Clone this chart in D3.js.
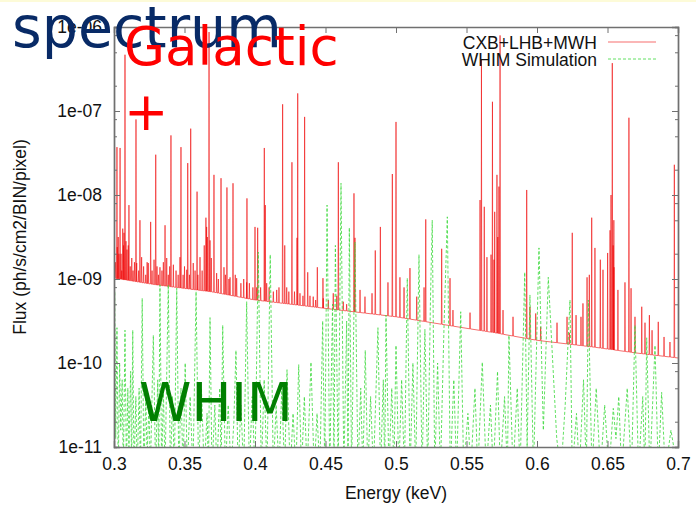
<!DOCTYPE html>
<html>
<head>
<meta charset="utf-8">
<script src="https://cdn.jsdelivr.net/npm/d3@7"></script>
<style>
  body { margin: 0; background: #fff; }
  text { font-family: "Liberation Sans", Arial, sans-serif; }
</style>
</head>
<body>
<div id="chart"></div>
<script>
// tick values
var xTicks = [0.3, 0.35, 0.4, 0.45, 0.5, 0.55, 0.6, 0.65, 0.7];
var yTicks = [1e-11, 1e-10, 1e-9, 1e-8, 1e-7, 1e-6];
var yMinorTicks = [2e-11, 5e-11, 8e-11, 2e-10, 5e-10, 8e-10, 2e-9, 5e-9, 8e-9,
                   2e-8, 5e-8, 8e-8, 2e-7, 5e-7, 8e-7];

var seriesNames = ["CXB+LHB+MWH", "WHIM Simulation"];

// continuum of the galactic model: energy (keV), log10 flux
var continuumE   = [0.300, 0.330, 0.370, 0.400, 0.430, 0.470, 0.500, 0.540, 0.570, 0.600, 0.640, 0.670, 0.700];
var continuumLog = [-8.99, -9.07, -9.155, -9.25, -9.31, -9.39, -9.45, -9.56, -9.64, -9.73, -9.81, -9.88, -9.94];

// emission lines of CXB+LHB+MWH: [energy, log10 peak flux]
var galacticLines = [
  [0.3021,-7.43],[0.3043,-7.44],[0.3078,-6.33],[0.3106,-8.12],[0.3156,-7.10],[0.3184,-8.30],
  [0.3260,-8.32],[0.3296,-7.52],[0.3362,-8.36],[0.3404,-7.29],[0.3475,-7.43],[0.3523,-7.62],
  [0.3544,-7.21],[0.3589,-7.96],[0.3652,-8.27],[0.3674,-6.06],[0.3709,-7.76],[0.3759,-7.80],
  [0.3801,-7.91],[0.3844,-7.86],[0.3943,-8.04],[0.4000,-8.38],[0.4019,-8.39],[0.4066,-7.44],
  [0.4073,-8.12],[0.4196,-6.92],[0.4211,-8.60],[0.4262,-7.61],[0.4298,-8.51],[0.4303,-6.79],
  [0.4352,-7.07],[0.4374,-8.92],[0.4442,-8.86],[0.4482,-8.99],[0.4591,-7.61],[0.4702,-7.98],
  [0.4709,-8.51],[0.4853,-8.66],[0.4889,-8.38],[0.4974,-7.75],[0.5000,-7.13],[0.5057,-9.10],
  [0.5099,-8.87],[0.5211,-8.29],[0.5324,-8.64],[0.5383,-8.99],[0.5596,-8.06],[0.5606,-6.39],
  [0.5626,-8.14],[0.5674,-8.71],[0.5684,-6.89],[0.5700,-8.20],[0.5716,-7.76],[0.5722,-8.50],
  [0.5730,-7.90],[0.5738,-6.10],[0.5927,-7.94],[0.5991,-9.41],[0.6229,-9.64],[0.6250,-8.45],
  [0.6277,-9.43],[0.6312,-9.45],[0.6371,-8.95],[0.6388,-8.27],[0.6411,-8.63],[0.6449,-8.77],
  [0.6501,-8.69],[0.6518,-8.42],[0.6525,-8.00],[0.6534,-6.43],[0.6540,-8.60],[0.6545,-8.30],
  [0.6624,-9.04],[0.6652,-7.08],[0.6667,-9.11],[0.6743,-9.33],[0.6797,-9.43],[0.6860,-9.51],
  [0.6974,-7.64]
];

// weak lines close to the continuum
var galacticWeak = [
  [0.3010,-8.80],[0.3023,-8.62],[0.3030,-8.50],[0.3035,-8.70],[0.3050,-8.70],[0.3055,-8.90],
  [0.3062,-8.40],[0.3068,-8.60],[0.3071,-8.45],[0.3085,-8.55],[0.3092,-8.65],[0.3101,-8.60],
  [0.3115,-8.85],[0.3126,-8.75],[0.3135,-8.90],[0.3145,-8.80],[0.3161,-8.81],[0.3175,-8.90],
  [0.3196,-8.74],[0.3210,-8.85],[0.3225,-8.95],[0.3235,-8.80],[0.3243,-8.81],[0.3270,-8.90],
  [0.3284,-8.77],[0.3305,-8.85],[0.3315,-8.95],[0.3326,-8.86],[0.3340,-8.90],[0.3350,-8.80],
  [0.3374,-8.75],[0.3385,-8.95],[0.3395,-8.85],[0.3421,-8.83],[0.3440,-8.90],[0.3455,-8.95],
  [0.3468,-8.74],[0.3490,-8.95],[0.3500,-8.85],[0.3516,-8.89],[0.3535,-8.95],[0.3562,-8.81],
  [0.3575,-8.90],[0.3595,-8.95],[0.3610,-8.74],[0.3625,-8.90],[0.3640,-8.60],[0.3657,-8.38],
  [0.3662,-8.50],[0.3681,-8.54],[0.3690,-8.75],[0.3728,-8.93],[0.3740,-9.00],[0.3780,-8.86],
  [0.3790,-8.95],[0.3815,-9.00],[0.3823,-8.98],[0.3860,-8.95],[0.3870,-8.99],[0.3900,-9.05],
  [0.3920,-9.00],[0.3941,-9.04],[0.3960,-9.05],[0.3985,-9.10],[0.4012,-9.10],[0.4040,-9.10],
  [0.4083,-9.05],[0.4100,-9.10],[0.4130,-9.15],[0.4154,-9.13],[0.4170,-9.10],[0.4225,-9.10],
  [0.4240,-9.15],[0.4280,-9.15],[0.4319,-9.17],[0.4340,-9.20],[0.4390,-9.20],[0.4413,-9.21],
  [0.4430,-9.25],[0.4484,-9.23],[0.4520,-9.25],[0.4555,-9.17],[0.4580,-9.20],[0.4626,-9.27],
  [0.4650,-9.30],[0.4745,-9.13],[0.4780,-9.21],[0.4830,-9.17],[0.4943,-9.04],[0.5028,-8.98],
  [0.5147,-9.21],[0.5199,-9.10],[0.5404,-9.37],[0.5525,-9.40],[0.5645,-8.74],[0.5695,-8.77],
  [0.5759,-9.37],[0.5830,-9.45],[0.5950,-9.33],[0.6026,-9.57],[0.6142,-9.52],[0.6213,-9.45],
  [0.6326,-9.29],[0.6355,-8.98],[0.6468,-8.89],[0.6546,-8.86],[0.6574,-9.13],[0.6695,-9.45],
  [0.6766,-9.52],[0.6816,-9.61],[0.6901,-9.69],[0.6943,-9.75]
];

// WHIM simulation: [energy, log10 flux] vertices in order
var whimPoints = [
  [0.3000,-10.2],[0.3005,-9.15],[0.3012,-10.9],[0.3021,-9.58],[0.3030,-11.3],[0.3040,-10.0],
  [0.3048,-10.8],[0.3058,-10.2],[0.3066,-11.3],[0.3078,-9.61],[0.3088,-11.3],[0.3098,-10.3],
  [0.3106,-11.0],[0.3118,-10.1],[0.3125,-11.3],[0.3133,-9.61],[0.3142,-11.3],[0.3155,-10.4],
  [0.3165,-11.3],[0.3178,-10.3],[0.3188,-11.3],[0.3200,-9.23],[0.3212,-11.3],[0.3225,-10.4],
  [0.3235,-11.1],[0.3248,-10.5],[0.3258,-11.3],[0.3279,-9.67],[0.3295,-11.3],[0.3310,-10.2],
  [0.3317,-11.3],[0.3326,-9.07],[0.3338,-11.3],[0.3350,-10.3],[0.3362,-11.3],[0.3385,-9.07],
  [0.3400,-11.3],[0.3415,-10.4],[0.3428,-11.3],[0.3445,-9.11],[0.3460,-11.3],[0.3475,-10.3],
  [0.3490,-11.3],[0.3505,-10.0],[0.3520,-11.3],[0.3540,-10.4],[0.3560,-11.3],[0.3582,-9.15],
  [0.3600,-11.3],[0.3620,-10.3],[0.3640,-11.3],[0.3660,-10.6],[0.3670,-11.3],[0.3681,-9.46],
  [0.3695,-11.3],[0.3715,-10.5],[0.3730,-11.3],[0.3750,-10.3],[0.3760,-11.3],[0.3771,-9.55],
  [0.3790,-11.3],[0.3810,-10.5],[0.3830,-11.3],[0.3850,-10.7],[0.3865,-9.85],[0.3880,-11.3],
  [0.3900,-10.5],[0.3920,-11.3],[0.3941,-9.27],[0.3960,-11.3],[0.3980,-10.4],[0.4000,-11.3],
  [0.4023,-8.68],[0.4045,-11.3],[0.4065,-10.2],[0.4085,-11.3],[0.4108,-8.71],[0.4130,-11.3],
  [0.4150,-10.5],[0.4170,-11.3],[0.4190,-10.3],[0.4210,-11.3],[0.4227,-10.08],[0.4250,-11.3],
  [0.4270,-10.6],[0.4290,-11.3],[0.4310,-10.02],[0.4330,-11.3],[0.4350,-10.4],[0.4370,-11.3],
  [0.4397,-9.99],[0.4420,-11.3],[0.4440,-10.6],[0.4460,-11.3],[0.4480,-9.5],[0.4495,-11.3],
  [0.4511,-8.12],[0.4530,-11.3],[0.4550,-9.3],[0.4560,-11.3],[0.4570,-8.60],[0.4590,-11.3],
  [0.4610,-7.86],[0.4630,-11.3],[0.4650,-9.5],[0.4660,-11.3],[0.4669,-8.39],[0.4685,-11.3],
  [0.4709,-8.56],[0.4730,-11.3],[0.4750,-10.3],[0.4765,-11.3],[0.4782,-9.85],[0.4800,-11.3],
  [0.4820,-10.4],[0.4840,-11.3],[0.4872,-9.58],[0.4890,-11.3],[0.4910,-10.2],[0.4920,-11.3],
  [0.4929,-9.43],[0.4950,-11.3],[0.4970,-10.3],[0.4985,-11.3],[0.5000,-9.79],[0.5020,-11.3],
  [0.5040,-10.2],[0.5060,-11.3],[0.5080,-8.99],[0.5100,-11.3],[0.5120,-10.0],[0.5140,-11.3],
  [0.5163,-8.71],[0.5185,-11.3],[0.5205,-9.6],[0.5225,-11.3],[0.5245,-9.2],[0.5257,-8.30],
  [0.5275,-11.3],[0.5295,-10.0],[0.5315,-11.3],[0.5340,-9.6],[0.5364,-8.26],[0.5385,-11.3],
  [0.5410,-10.2],[0.5430,-11.3],[0.5459,-9.39],[0.5480,-11.3],[0.5510,-10.6],[0.5530,-11.3],
  [0.5560,-10.3],[0.5580,-11.3],[0.5612,-9.99],[0.5640,-11.3],[0.5670,-10.5],[0.5690,-11.3],
  [0.5720,-10.1],[0.5740,-11.3],[0.5770,-10.4],[0.5790,-11.3],[0.5801,-9.67],[0.5830,-11.3],
  [0.5860,-10.3],[0.5880,-11.3],[0.5913,-8.92],[0.5930,-11.0],[0.5950,-9.19],[0.5975,-11.3],
  [0.6014,-8.63],[0.6045,-10.8],[0.6080,-8.98],[0.6140,-10.9],[0.6170,-11.3],[0.6200,-10.5],
  [0.6234,-9.25],[0.6250,-11.3],[0.6280,-10.6],[0.6300,-11.3],[0.6330,-10.2],[0.6350,-11.3],
  [0.6364,-9.25],[0.6390,-11.3],[0.6420,-10.3],[0.6450,-11.3],[0.6480,-10.5],[0.6510,-11.3],
  [0.6541,-10.54],[0.6560,-10.9],[0.6580,-10.4],[0.6600,-11.3],[0.6640,-10.3],[0.6670,-11.3],
  [0.6695,-9.55],[0.6720,-11.3],[0.6750,-10.4],[0.6765,-11.3],[0.6778,-9.70],[0.6800,-11.3],
  [0.6837,-9.79],[0.6860,-11.3],[0.6884,-10.35],[0.6910,-11.3],[0.6950,-10.8],[0.7000,-11.3]
];

var W = 696, H = 513;
var margin = {top: 27, right: 18, bottom: 66, left: 114},
    width = W - margin.left - margin.right,
    height = H - margin.top - margin.bottom;

var svg = d3.select("#chart")
    .append("svg")
        .attr("width", W)
        .attr("height", H);

// thin pale strip along the top edge
svg.append("rect")
    .attr("x", 0).attr("y", 0)
    .attr("width", W).attr("height", 2)
    .attr("fill", "#fdfbd8");

var g = svg.append("g")
    .attr("transform", "translate(" + margin.left + "," + margin.top + ")");

var x = d3.scaleLinear().domain([0.3, 0.7]).range([0, width]);
var y = d3.scaleLog().domain([1e-11, 1e-6]).range([height, 0]);
var continuum = d3.scaleLinear().domain(continuumE).range(continuumLog);

g.append("clipPath").attr("id", "plot-clip")
    .append("rect").attr("width", width).attr("height", height);

// build galactic spectrum: continuum with spikes
var lines = d3.sort(galacticLines.concat(galacticWeak), d => d[0]);
var halfW = 0.00025;
var redPts = [[0.3, continuum(0.3)]];
lines.forEach(function(d) {
    redPts.push([d[0] - halfW, continuum(d[0] - halfW)]);
    redPts.push([d[0], d[1]]);
    redPts.push([d[0] + halfW, continuum(d[0] + halfW)]);
});
redPts.push([0.7, continuum(0.7)]);

var line = d3.line()
    .x(function(d) { return x(d[0]); })
    .y(function(d) { return y(Math.pow(10, d[1])); });

var curves = g.append("g").attr("clip-path", "url(#plot-clip)");

curves.append("path")
    .datum(redPts)
    .attr("fill", "none")
    .attr("stroke", "#f00000")
    .attr("stroke-width", 0.8)
    .attr("stroke-opacity", 0.72)
    .attr("d", line);

curves.append("path")
    .datum(whimPoints)
    .attr("fill", "none")
    .attr("stroke", "#3ad83a")
    .attr("stroke-width", 0.8)
    .attr("stroke-dasharray", "3,2")
    .attr("d", line);

// axes
var axisColor = "#707070";
function styleAxis(sel) {
    sel.selectAll("path, line").attr("stroke", axisColor);
    sel.select(".domain").attr("stroke-width", 1.4);
    sel.selectAll("text")
        .attr("fill", "#111")
        .style("font-size", "17.5px")
        .style("font-family", "'Liberation Sans', Arial, sans-serif");
}
var fmt = function(d) {
    var e = Math.round(Math.log10(d));
    return "1e" + (e < 0 ? "-" : "+") + String(Math.abs(e)).padStart(2, "0");
};

g.append("g").attr("transform", "translate(0," + height + ")")
    .call(d3.axisBottom(x).tickValues(xTicks).tickSize(-6).tickPadding(11).tickFormat(d3.format("")))
    .call(styleAxis);
g.append("g")
    .call(d3.axisTop(x).tickValues(xTicks).tickSize(-6).tickFormat(""))
    .call(styleAxis);
g.append("g")
    .call(d3.axisLeft(y).tickValues(yTicks).tickSize(-6).tickPadding(12).tickFormat(fmt))
    .call(styleAxis);
g.append("g").attr("transform", "translate(" + width + ",0)")
    .call(d3.axisRight(y).tickValues(yTicks).tickSize(-6).tickFormat(""))
    .call(styleAxis);
g.append("g")
    .call(d3.axisLeft(y).tickValues(yMinorTicks).tickSize(-3).tickFormat(""))
    .call(styleAxis);
g.append("g").attr("transform", "translate(" + width + ",0)")
    .call(d3.axisRight(y).tickValues(yMinorTicks).tickSize(-3).tickFormat(""))
    .call(styleAxis);

// axis labels
g.append("text")
    .attr("x", width / 2)
    .attr("y", height + 52)
    .attr("text-anchor", "middle")
    .attr("fill", "#111")
    .style("font-size", "17.5px")
    .text("Energy (keV)");

g.append("text")
    .attr("transform", "rotate(-90)")
    .attr("x", -(210))
    .attr("y", -88)
    .attr("text-anchor", "middle")
    .attr("fill", "#111")
    .style("font-size", "17.5px")
    .text("Flux (ph/s/cm2/BIN/pixel)");

// legend
var legend = g.append("g").attr("transform", "translate(" + (width - 81) + ",0)");
[["#f00000", null, 15], ["#3ad83a", "3,2", 32]].forEach(function(s, i) {
    legend.append("text")
        .attr("x", 0)
        .attr("y", s[2] + 7)
        .attr("text-anchor", "end")
        .attr("fill", "#111")
        .style("font-size", "17.5px")
        .text(seriesNames[i]);
    legend.append("line")
        .attr("x1", 11).attr("x2", 59)
        .attr("y1", s[2]).attr("y2", s[2])
        .attr("stroke", s[0])
        .attr("stroke-width", 0.8)
        .attr("stroke-opacity", i === 0 ? 0.72 : 1)
        .attr("stroke-dasharray", s[1]);
});

// overlaid slide text
var big = "'DejaVu Sans', sans-serif";
svg.append("text").attr("x", 12).attr("y", 47)
    .style("font-family", big).style("font-size", "57px")
    .attr("fill", "#082a66").text("spectrum");
svg.append("text").attr("x", 124).attr("y", 65)
    .style("font-family", big).style("font-size", "53px")
    .attr("fill", "#ff0000").text("Galactic");
svg.append("text").attr("x", 124).attr("y", 130)
    .style("font-family", big).style("font-size", "53px")
    .attr("fill", "#ff0000").text("+");
svg.append("text").attr("x", 139).attr("y", 421)
    .style("font-family", big).style("font-size", "53px")
    .attr("fill", "#007f00").text("WHIM");
</script>
</body>
</html>
